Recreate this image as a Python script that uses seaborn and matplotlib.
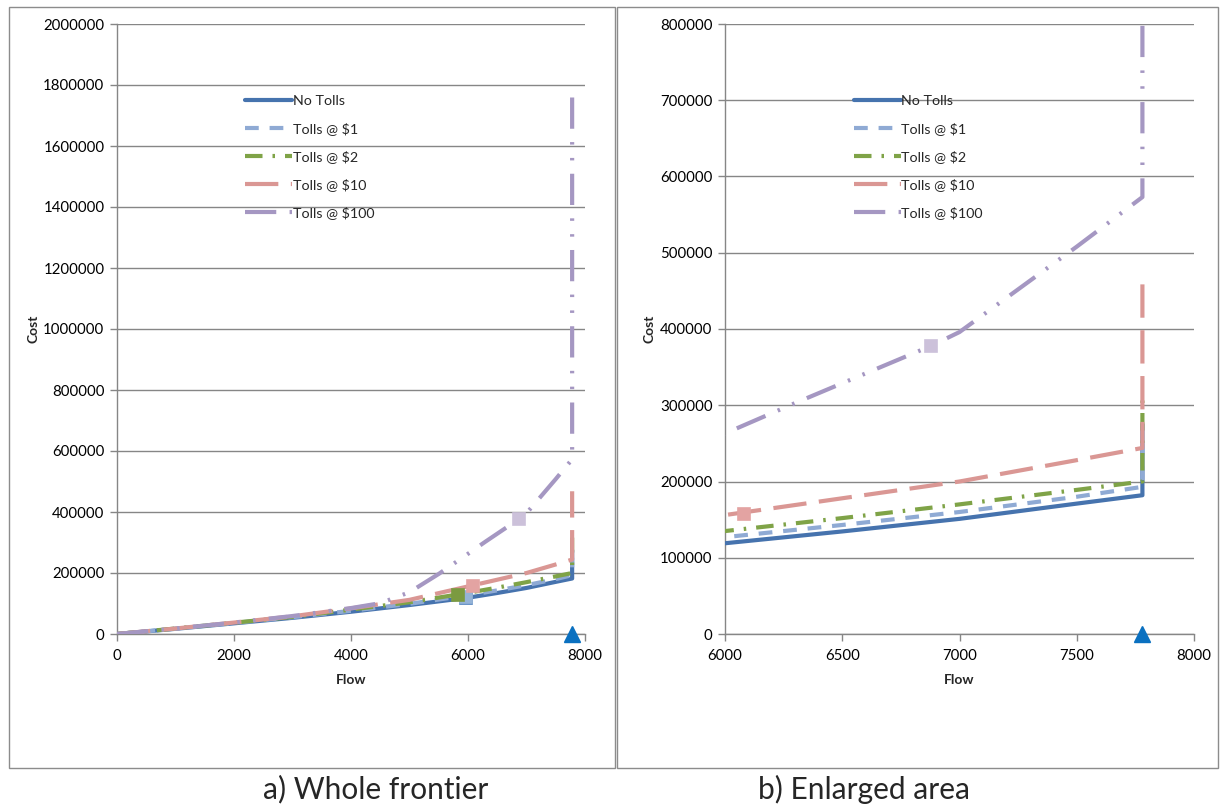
import numpy as np
import pandas as pd
import matplotlib
matplotlib.use("Agg")
import matplotlib.pyplot as plt
import seaborn as sns
from matplotlib.patches import Rectangle

# ---------------- data ----------------
series_names = ["No Tolls", "Tolls @ $1", "Tolls @ $2", "Tolls @ $10", "Tolls @ $100"]

flow_no_tolls = [0, 1000, 2000, 3000, 4000, 5000, 6000, 6500, 7000, 7500, 7780, 7780]
cost_no_tolls = [0, 17000, 35000, 53000, 73000, 95000, 119000, 134500, 151000, 171000, 182000, 275000]

flow_toll1 = [0, 1000, 2000, 3000, 4000, 5000, 6000, 6500, 7000, 7500, 7780, 7780]
cost_toll1 = [0, 17500, 36000, 55000, 76000, 99000, 127000, 143000, 160000, 180000, 193000, 250000]

flow_toll2 = [0, 1000, 2000, 3000, 4000, 5000, 6000, 6500, 7000, 7500, 7780, 7780]
cost_toll2 = [0, 18000, 37000, 56000, 80000, 104000, 135000, 152000, 170000, 189000, 200000, 316000]

flow_toll10 = [0, 1000, 2000, 3000, 4000, 5000, 6000, 6500, 7000, 7500, 7780, 7780]
cost_toll10 = [0, 18000, 37500, 58000, 84000, 112000, 156000, 178000, 200000, 228000, 244000, 468000]

flow_toll100 = [0, 1000, 2000, 3000, 4000, 4500, 5000, 5500, 6000, 6300, 6880, 7000, 7500, 7780, 7780]
cost_toll100 = [0, 18000, 37500, 59000, 85000, 101000, 137000, 197000, 263000, 303000, 378000, 396000, 508000, 573000, 1780000]

# optimal points (square markers)
opt_flow = [5960, 5960, 5823, 6080, 6880]
opt_cost = [118000, 121000, 128000, 158000, 378000]

# capacity point (triangle)
cap_flow = [7780]
cap_cost = [0]

captions = ["a) Whole frontier", "b) Enlarged area"]

# ---------------- style ----------------
sns.set_style("white")
plt.rcParams["font.family"] = ["Lato", "DejaVu Sans"]

line_colors = ["#4673AE", "#8FAAD4", "#7FA347", "#DA9794", "#A597C2"]
marker_faces = ["#A9C0E0", "#95B3D7", "#7B9A40", "#E3A3A2", "#CCC1DA"]
marker_edges = ["#4F81BD", "#95B3D7", "#7B9A40", "#E3A3A2", "#CCC1DA"]
dash_styles = ["-", (0, (3.3, 2.6)), (0, (4.2, 2.4, 0.6, 2.4)), (0, (8, 3)),
               (0, (7.5, 3.2, 0.6, 3.2, 0.6, 3.2))]

flows = [flow_no_tolls, flow_toll1, flow_toll2, flow_toll10, flow_toll100]
costs = [cost_no_tolls, cost_toll1, cost_toll2, cost_toll10, cost_toll100]

W, H = 1220, 808
fig = plt.figure(figsize=(W / 100, H / 100), dpi=100)

# panel frames
fig.patches.append(Rectangle((9 / W, 1 - 768 / H), (615 - 9) / W, (768 - 7) / H,
                             transform=fig.transFigure, fill=False, ec="#8C8C8C", lw=1))
fig.patches.append(Rectangle((617 / W, 1 - 768 / H), (1218 - 617) / W, (768 - 7) / H,
                             transform=fig.transFigure, fill=False, ec="#8C8C8C", lw=1))

ax_bottom = 1 - 634 / H
ax_height = (634 - 24) / H
axL = fig.add_axes([117 / W, ax_bottom, (585 - 117) / W, ax_height])
axR = fig.add_axes([725 / W, ax_bottom, (1194 - 725) / W, ax_height])

grey = "#868686"
for ax, xlim, ylim, yticks, xticks in [
    (axL, (0, 8000), (0, 2000000), np.arange(0, 2000001, 200000), np.arange(0, 8001, 2000)),
    (axR, (6000, 8000), (0, 800000), np.arange(0, 800001, 100000), np.arange(6000, 8001, 500)),
]:
    for i, name in enumerate(series_names):
        df = pd.DataFrame({"Flow": flows[i], "Cost": costs[i]})
        sns.lineplot(data=df, x="Flow", y="Cost", ax=ax, sort=False, estimator=None,
                     color=line_colors[i], lw=3, linestyle=dash_styles[i], label=name,
                     zorder=3)
    for i in range(len(opt_flow)):
        ax.plot(opt_flow[i], opt_cost[i], marker="s", ms=9, mfc=marker_faces[i],
                mec=marker_edges[i], mew=1.2, ls="none", zorder=4)
    ax.plot(cap_flow, cap_cost, marker="^", ms=11, color="#0A70C0", ls="none",
            zorder=5, clip_on=False)

    ax.set_xlim(*xlim)
    ax.set_ylim(*ylim)
    ax.set_xticks(xticks)
    ax.set_yticks(yticks)
    ax.set_xticklabels([str(v) for v in xticks])
    ax.set_yticklabels([str(v) for v in yticks])
    ax.grid(axis="y", color=grey, lw=1)
    ax.grid(axis="x", visible=False)
    ax.set_axisbelow(True)
    for s in ["top", "right"]:
        ax.spines[s].set_visible(False)
    for s in ["left", "bottom"]:
        ax.spines[s].set_color(grey)
        ax.spines[s].set_linewidth(1)
    ax.tick_params(axis="both", which="major", direction="out", length=5, width=1,
                   color=grey, labelsize=10.8, labelcolor="#000000", left=True, bottom=True)
    ax.tick_params(axis="y", pad=4)
    ax.tick_params(axis="x", pad=6)
    ax.set_xlabel("Flow", fontsize=10, fontweight="bold", labelpad=8)
    ax.set_ylabel("Cost", fontsize=10, fontweight="bold", labelpad=3)

    leg = ax.legend(loc="upper left", bbox_to_anchor=(0.274, 0.884), frameon=False,
                    fontsize=10.3, handlelength=3.3, handletextpad=0.05,
                    labelspacing=1.05, borderpad=0, borderaxespad=0)

fig.text(376 / W, 1 - 789 / H, captions[0], ha="center", va="center", fontsize=21.5)
fig.text(864 / W, 1 - 789 / H, captions[1], ha="center", va="center", fontsize=21.5)

fig.savefig("out.png", dpi=100)
